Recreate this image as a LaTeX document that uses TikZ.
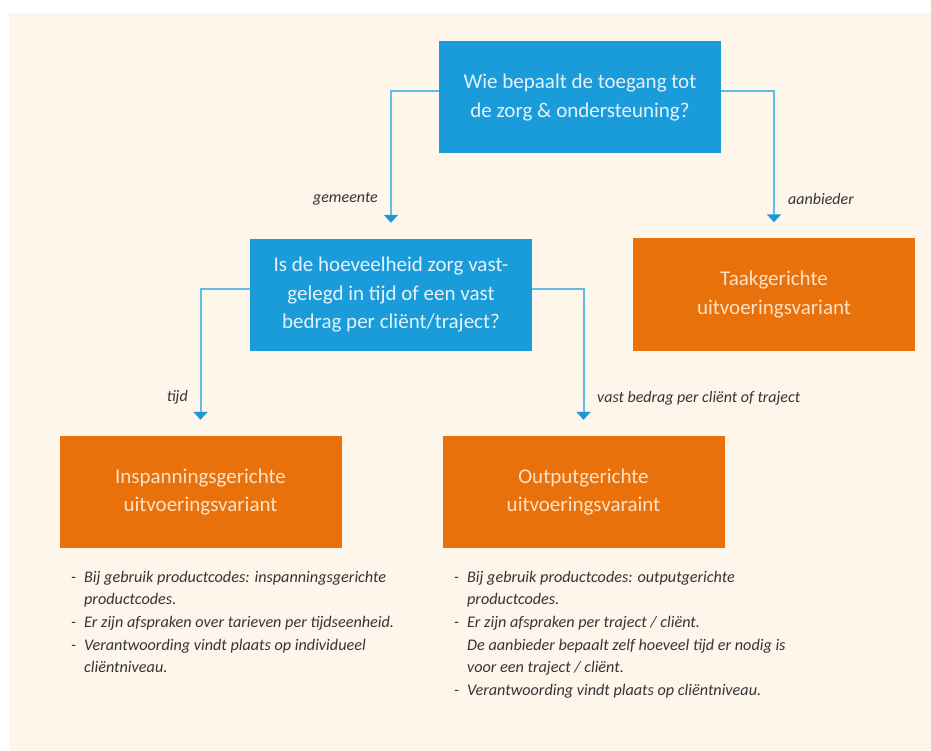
\documentclass[tikz,border=0pt]{standalone}
\usepackage{fontspec}
\setmainfont{Carlito}
\usetikzlibrary{arrows.meta}

\definecolor{paper}{HTML}{FEF5EB}
\definecolor{qblue}{HTML}{1A9BDA}
\definecolor{linkblue}{HTML}{62BDE6}
\definecolor{tipblue}{HTML}{1D97D6}
\definecolor{vorange}{HTML}{E8710C}
\definecolor{onblue}{HTML}{E4F3FB}
\definecolor{onorange}{HTML}{FDE2C6}
\definecolor{ink}{HTML}{353535}

\tikzset{
  question/.style={fill=qblue, text=onblue, minimum width=282pt, minimum height=112pt,
    align=center, inner sep=0pt, font=\fontsize{21}{28.5}\selectfont},
  variant/.style={fill=vorange, text=onorange, minimum width=282pt, minimum height=112pt,
    align=center, inner sep=0pt, font=\fontsize{21}{28.5}\selectfont},
  link/.style={draw=linkblue, line width=2pt,
    -{Triangle[width=14pt,length=8pt,color=tipblue]}, shorten >=16pt},
  choice/.style={text=ink, inner sep=0pt, font=\fontsize{16}{19}\selectfont\itshape},
  notes/.style={text=ink, inner sep=0pt, anchor=north west, align=left,
    font=\fontsize{16.2}{22.7}\selectfont\itshape}
}

\begin{document}
\begin{tikzpicture}[x=1pt, y=-1pt]
  % canvas and cream panel
  \fill[white] (0,0) rectangle (931,751);
  \fill[paper] (9,13) rectangle (931,751);
  \useasboundingbox (0,0) rectangle (931,751);

  % decision boxes
  \node[question] (toegang) at (580,97.5) {Wie bepaalt de toegang tot\\de zorg \& ondersteuning?};
  \node[question] (hoeveel) at (391,295) {Is de hoeveelheid zorg vast-\\gelegd in tijd of een vast\\bedrag per cliënt/traject?};

  % outcome boxes
  \node[variant] (taak) at (774,294.5) {Taakgerichte\\uitvoeringsvariant};
  \node[variant] (inspanning) at (200.5,492) {Inspanningsgerichte\\uitvoeringsvariant};
  \node[variant] (output) at (583.5,492) {Outputgerichte\\uitvoeringsvaraint};

  % connectors
  \draw[link] ([yshift=6pt]toegang.west) -| (hoeveel.north);
  \draw[link] ([yshift=6pt]toegang.east) -| (taak.north);
  \draw[link] ([yshift=6pt]hoeveel.west) -| (inspanning.north);
  \draw[link] ([yshift=6pt]hoeveel.east) -| (output.north);

  % connector labels
  \node[choice, anchor=east] (lgem) at (378,199) {gemeente};
  \node[choice, anchor=west] (laan) at (788,199) {aanbieder};
  \node[choice, anchor=east] (ltijd) at (188,397) {tijd};
  \node[choice, anchor=west] (lvast) at (597,398) {vast bedrag per cliënt of traject};

  % notes under the variants
  \node[notes] (ninsp) at (71,566) {%
    \begin{tabular}{@{}l@{\hspace{8pt}}l@{}}
    - & Bij gebruik productcodes: inspanningsgerichte\\
      & productcodes.\\
    - & Er zijn afspraken over tarieven per tijdseenheid.\\
    - & Verantwoording vindt plaats op individueel\\
      & cliëntniveau.
    \end{tabular}};
  \node[notes] (noutp) at (454,566) {%
    \begin{tabular}{@{}l@{\hspace{8pt}}l@{}}
    - & Bij gebruik productcodes: outputgerichte\\
      & productcodes.\\
    - & Er zijn afspraken per traject / cliënt.\\
      & De aanbieder bepaalt zelf hoeveel tijd er nodig is\\
      & voor een traject / cliënt.\\
    - & Verantwoording vindt plaats op cliëntniveau.
    \end{tabular}};
\end{tikzpicture}
\end{document}
